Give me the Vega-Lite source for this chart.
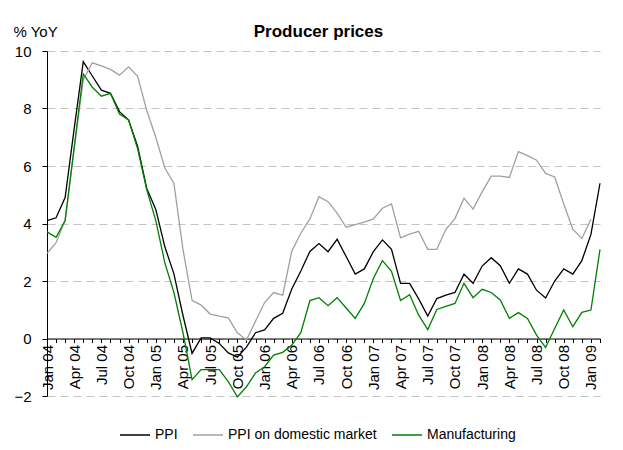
{
  "$schema": "https://vega.github.io/schema/vega-lite/v6.json",
  "width": 553,
  "height": 345,
  "autosize": {"type": "none"},
  "padding": {"left": 47, "top": 51, "right": 23, "bottom": 54},
  "background": "white",
  "config": {
    "font": "Liberation Sans",
    "view": {"stroke": null},
    "axis": {"labelFont": "Liberation Sans", "titleFont": "Liberation Sans", "labelColor": "black", "titleColor": "black"}
  },
  "title": {
    "text": "Producer prices",
    "font": "Liberation Sans",
    "fontSize": 17,
    "fontWeight": "bold",
    "color": "black",
    "anchor": "middle",
    "frame": "group",
    "baseline": "alphabetic",
    "offset": -30,
    "dx": -5
  },
  "data": {
    "values": [
      {"m": "Jan 04", "PPI": 4.1, "PPI on domestic market": 2.96, "Manufacturing": 3.71},
      {"m": "Feb 04", "PPI": 4.2, "PPI on domestic market": 3.33, "Manufacturing": 3.52},
      {"m": "Mar 04", "PPI": 4.9, "PPI on domestic market": 4.12, "Manufacturing": 4.1},
      {"m": "Apr 04", "PPI": 7.3, "PPI on domestic market": 6.6, "Manufacturing": 6.65},
      {"m": "May 04", "PPI": 9.63, "PPI on domestic market": 9.0, "Manufacturing": 9.2},
      {"m": "Jun 04", "PPI": 9.13, "PPI on domestic market": 9.59, "Manufacturing": 8.74},
      {"m": "Jul 04", "PPI": 8.64, "PPI on domestic market": 9.48, "Manufacturing": 8.43},
      {"m": "Aug 04", "PPI": 8.53, "PPI on domestic market": 9.36, "Manufacturing": 8.53},
      {"m": "Sep 04", "PPI": 7.89, "PPI on domestic market": 9.16, "Manufacturing": 7.81},
      {"m": "Oct 04", "PPI": 7.6, "PPI on domestic market": 9.45, "Manufacturing": 7.6},
      {"m": "Nov 04", "PPI": 6.68, "PPI on domestic market": 9.12, "Manufacturing": 6.6},
      {"m": "Dec 04", "PPI": 5.22, "PPI on domestic market": 7.93, "Manufacturing": 5.18},
      {"m": "Jan 05", "PPI": 4.49, "PPI on domestic market": 7.0, "Manufacturing": 4.1},
      {"m": "Feb 05", "PPI": 3.19, "PPI on domestic market": 5.93, "Manufacturing": 2.63},
      {"m": "Mar 05", "PPI": 2.25, "PPI on domestic market": 5.39, "Manufacturing": 1.6},
      {"m": "Apr 05", "PPI": 0.8, "PPI on domestic market": 3.1, "Manufacturing": 0.2},
      {"m": "May 05", "PPI": -0.52, "PPI on domestic market": 1.33, "Manufacturing": -1.43},
      {"m": "Jun 05", "PPI": 0.02, "PPI on domestic market": 1.16, "Manufacturing": -1.08},
      {"m": "Jul 05", "PPI": 0.02, "PPI on domestic market": 0.85, "Manufacturing": -1.08},
      {"m": "Aug 05", "PPI": -0.17, "PPI on domestic market": 0.78, "Manufacturing": -1.08},
      {"m": "Sep 05", "PPI": -0.5, "PPI on domestic market": 0.72, "Manufacturing": -1.5},
      {"m": "Oct 05", "PPI": -0.65, "PPI on domestic market": 0.2, "Manufacturing": -2.03},
      {"m": "Nov 05", "PPI": -0.3, "PPI on domestic market": -0.05, "Manufacturing": -1.68},
      {"m": "Dec 05", "PPI": 0.2, "PPI on domestic market": 0.6, "Manufacturing": -1.2},
      {"m": "Jan 06", "PPI": 0.3, "PPI on domestic market": 1.25, "Manufacturing": -0.98},
      {"m": "Feb 06", "PPI": 0.7, "PPI on domestic market": 1.6, "Manufacturing": -0.58},
      {"m": "Mar 06", "PPI": 0.88, "PPI on domestic market": 1.51, "Manufacturing": -0.48},
      {"m": "Apr 06", "PPI": 1.72, "PPI on domestic market": 3.04, "Manufacturing": -0.23},
      {"m": "May 06", "PPI": 2.35, "PPI on domestic market": 3.66, "Manufacturing": 0.2},
      {"m": "Jun 06", "PPI": 3.03, "PPI on domestic market": 4.16, "Manufacturing": 1.32},
      {"m": "Jul 06", "PPI": 3.3, "PPI on domestic market": 4.93, "Manufacturing": 1.42},
      {"m": "Aug 06", "PPI": 3.02, "PPI on domestic market": 4.76, "Manufacturing": 1.14},
      {"m": "Sep 06", "PPI": 3.45, "PPI on domestic market": 4.36, "Manufacturing": 1.42},
      {"m": "Oct 06", "PPI": 2.85, "PPI on domestic market": 3.87, "Manufacturing": 1.06},
      {"m": "Nov 06", "PPI": 2.24, "PPI on domestic market": 3.96, "Manufacturing": 0.7},
      {"m": "Dec 06", "PPI": 2.42, "PPI on domestic market": 4.05, "Manufacturing": 1.22},
      {"m": "Jan 07", "PPI": 3.02, "PPI on domestic market": 4.16, "Manufacturing": 2.09},
      {"m": "Feb 07", "PPI": 3.43, "PPI on domestic market": 4.53, "Manufacturing": 2.71},
      {"m": "Mar 07", "PPI": 3.1, "PPI on domestic market": 4.68, "Manufacturing": 2.34},
      {"m": "Apr 07", "PPI": 1.92, "PPI on domestic market": 3.5, "Manufacturing": 1.32},
      {"m": "May 07", "PPI": 1.92, "PPI on domestic market": 3.63, "Manufacturing": 1.52},
      {"m": "Jun 07", "PPI": 1.38, "PPI on domestic market": 3.73, "Manufacturing": 0.81},
      {"m": "Jul 07", "PPI": 0.78, "PPI on domestic market": 3.1, "Manufacturing": 0.31},
      {"m": "Aug 07", "PPI": 1.39, "PPI on domestic market": 3.1, "Manufacturing": 1.01},
      {"m": "Sep 07", "PPI": 1.51, "PPI on domestic market": 3.8, "Manufacturing": 1.12},
      {"m": "Oct 07", "PPI": 1.6, "PPI on domestic market": 4.17, "Manufacturing": 1.22},
      {"m": "Nov 07", "PPI": 2.24, "PPI on domestic market": 4.88, "Manufacturing": 1.92},
      {"m": "Dec 07", "PPI": 1.92, "PPI on domestic market": 4.5, "Manufacturing": 1.42},
      {"m": "Jan 08", "PPI": 2.52, "PPI on domestic market": 5.1, "Manufacturing": 1.71},
      {"m": "Feb 08", "PPI": 2.81, "PPI on domestic market": 5.65, "Manufacturing": 1.6},
      {"m": "Mar 08", "PPI": 2.53, "PPI on domestic market": 5.65, "Manufacturing": 1.34},
      {"m": "Apr 08", "PPI": 1.92, "PPI on domestic market": 5.6, "Manufacturing": 0.7},
      {"m": "May 08", "PPI": 2.42, "PPI on domestic market": 6.5, "Manufacturing": 0.9},
      {"m": "Jun 08", "PPI": 2.24, "PPI on domestic market": 6.36, "Manufacturing": 0.7},
      {"m": "Jul 08", "PPI": 1.68, "PPI on domestic market": 6.2, "Manufacturing": 0.12},
      {"m": "Aug 08", "PPI": 1.41, "PPI on domestic market": 5.74, "Manufacturing": -0.31},
      {"m": "Sep 08", "PPI": 2.0, "PPI on domestic market": 5.62, "Manufacturing": 0.35},
      {"m": "Oct 08", "PPI": 2.42, "PPI on domestic market": 4.68, "Manufacturing": 0.99},
      {"m": "Nov 08", "PPI": 2.24, "PPI on domestic market": 3.8, "Manufacturing": 0.41},
      {"m": "Dec 08", "PPI": 2.71, "PPI on domestic market": 3.48, "Manufacturing": 0.91},
      {"m": "Jan 09", "PPI": 3.62, "PPI on domestic market": 4.15, "Manufacturing": 0.99},
      {"m": "Feb 09", "PPI": 5.4, "PPI on domestic market": null, "Manufacturing": 3.1}
    ]
  },
  "transform": [
    {"fold": ["PPI", "PPI on domestic market", "Manufacturing"], "as": ["series", "value"]}
  ],
  "mark": {"type": "line", "strokeWidth": 1.3, "interpolate": "linear"},
  "encoding": {
    "x": {
      "field": "m",
      "type": "ordinal",
      "sort": null,
      "scale": {"type": "point", "padding": 0},
      "axis": {
        "title": null,
        "orient": "bottom",
        "offset": -57.5,
        "labelAngle": -90,
        "labelFontSize": 15,
        "labelOverlap": false,
        "labelPadding": 2,
        "labelExpr": "indexof(['Jan','Apr','Jul','Oct'], substring(datum.value,0,3)) >= 0 ? datum.value : ''",
        "domainColor": "black",
        "domainWidth": 1,
        "tickColor": "black",
        "tickSize": 4,
        "grid": false
      }
    },
    "y": {
      "field": "value",
      "type": "quantitative",
      "scale": {"domain": [-2, 10], "nice": false, "zero": false},
      "axis": {
        "values": [-2, 0, 2, 4, 6, 8, 10],
        "title": "% YoY",
        "titleAngle": 0,
        "titleX": -34,
        "titleY": -15,
        "titleAlign": "left",
        "titleBaseline": "alphabetic",
        "titleFontSize": 15,
        "titleFontWeight": "normal",
        "labelFontSize": 15,
        "labelPadding": 11,
        "tickSize": 5,
        "tickColor": "black",
        "domainColor": "black",
        "grid": true,
        "gridColor": "#c4c4c4",
        "gridDash": [8, 5],
        "gridWidth": 1
      }
    },
    "color": {
      "field": "series",
      "type": "nominal",
      "scale": {
        "domain": ["PPI", "PPI on domestic market", "Manufacturing"],
        "range": ["#000000", "#a0a0a0", "#008000"]
      },
      "legend": {
        "title": null,
        "orient": "none",
        "legendX": 72,
        "legendY": 368,
        "direction": "horizontal",
        "symbolType": "stroke",
        "symbolSize": 900,
        "symbolStrokeWidth": 1.5,
        "labelFontSize": 14,
        "labelColor": "black",
        "labelOffset": 4,
        "columnPadding": 12,
        "padding": 0
      }
    }
  }
}
